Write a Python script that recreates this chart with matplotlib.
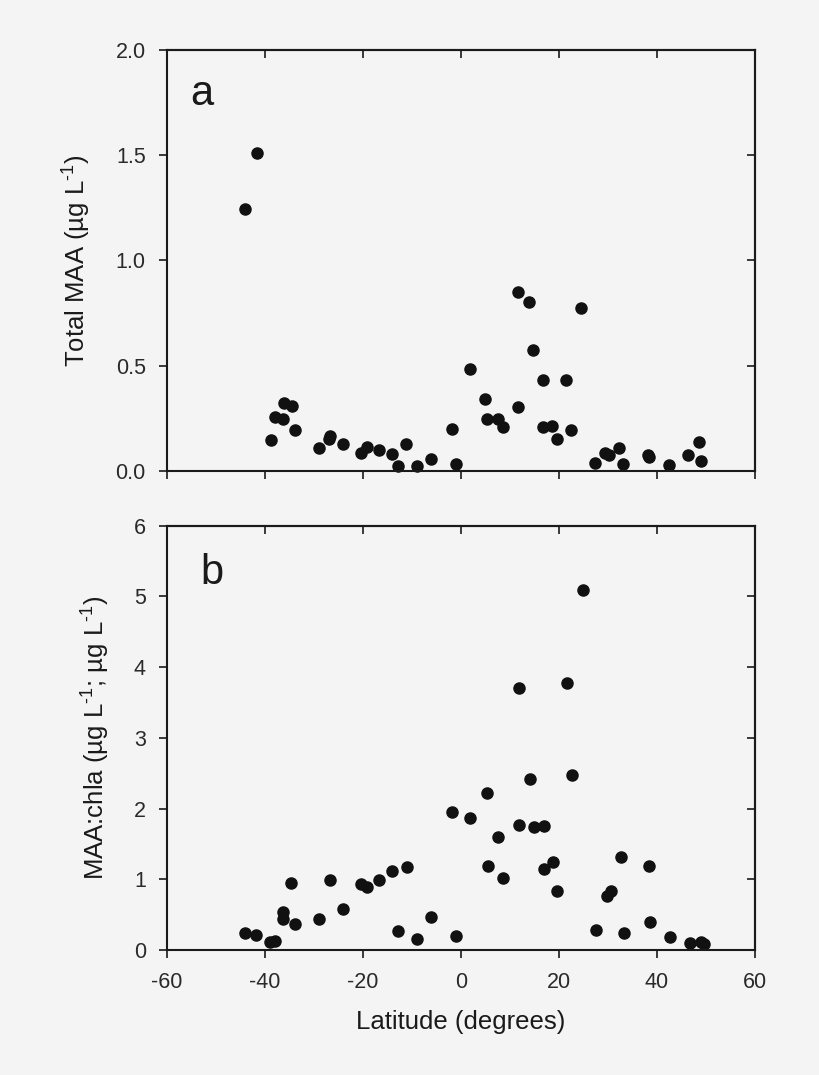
import numpy as np
import matplotlib
matplotlib.use("Agg")
import matplotlib.pyplot as plt

plt.rcParams['font.family'] = ['Liberation Sans', 'DejaVu Sans']
plt.rcParams['mathtext.fontset'] = 'custom'
plt.rcParams['mathtext.rm'] = 'Liberation Sans'
plt.rcParams['mathtext.it'] = 'Liberation Sans:italic'
plt.rcParams['axes.unicode_minus'] = False

#-- Data ---------------------------------------------------
# panel a: total MAA (ug/L) against latitude
lat_a = [-41.6, -44.0, -36.1, -34.4, -38.0, -36.2, -33.8, -38.8, -28.9, -26.6,
         -26.9, -24.1, -20.4, -19.1, -16.7, -14.1, -12.9, -11.1, -8.9, -6.1,
         -1.7, -1.0, 1.8, 5.0, 5.3, 7.6, 8.6, 11.7, 11.7, 14.0,
         14.8, 16.7, 16.7, 18.6, 19.6, 21.5, 22.5, 24.6, 27.5, 29.4,
         30.3, 32.4, 33.1, 38.2, 38.5, 42.6, 46.3, 48.7, 49.1]
maa = [1.51, 1.242, 0.32, 0.309, 0.254, 0.246, 0.193, 0.147, 0.108, 0.166,
       0.15, 0.128, 0.083, 0.111, 0.098, 0.078, 0.021, 0.127, 0.021, 0.056,
       0.197, 0.030, 0.482, 0.342, 0.244, 0.246, 0.206, 0.851, 0.301, 0.803,
       0.575, 0.43, 0.206, 0.211, 0.149, 0.43, 0.192, 0.772, 0.037, 0.083,
       0.076, 0.106, 0.030, 0.075, 0.067, 0.026, 0.075, 0.135, 0.045]

# panel b: MAA:chla ratio against latitude
lat_b = [-44.0, -41.7, -38.9, -38.0, -36.3, -36.3, -34.6, -33.9, -28.9, -26.6,
         -24.1, -20.4, -19.2, -16.7, -14.0, -11.0, -12.8, -8.9, -6.0, -1.7,
         -1.0, 1.9, 5.3, 5.5, 7.7, 8.7, 11.9, 11.9, 14.1, 15.0,
         17.0, 16.9, 18.9, 19.7, 21.7, 22.8, 24.9, 27.7, 29.8, 30.7,
         32.7, 33.4, 38.4, 38.7, 42.8, 46.7, 49.1, 49.6]
ratio = [0.245, 0.212, 0.113, 0.127, 0.537, 0.438, 0.952, 0.363, 0.434, 0.99,
         0.58, 0.938, 0.896, 0.99, 1.122, 1.174, 0.264, 0.16, 0.467, 1.948,
         0.194, 1.867, 2.216, 1.188, 1.594, 1.018, 3.71, 1.773, 2.423, 1.735,
         1.754, 1.141, 1.249, 0.839, 3.772, 2.48, 5.088, 0.287, 0.764, 0.83,
         1.32, 0.236, 1.188, 0.392, 0.18, 0.095, 0.113, 0.085]

xticks = [-60, -40, -20, 0, 20, 40, 60]
yticks_a = [0.0, 0.5, 1.0, 1.5, 2.0]
yticks_b = [0, 1, 2, 3, 4, 5, 6]

#-- Plot ---------------------------------------------------
bg = '#f4f4f4'
ink = '#1a1a1a'
fig = plt.figure(figsize=(8.2, 10.75), dpi=100, facecolor=bg)
ax1 = fig.add_axes([0.2033, 0.5621, 0.7171, 0.3914], facecolor=bg)
ax2 = fig.add_axes([0.2033, 0.1163, 0.7171, 0.3947], facecolor=bg)


def style(ax, yticks, fmt, show_x):
    ax.set_xlim(-60, 60)
    ax.set_ylim(yticks[0], yticks[-1])
    ax.set_xticks(xticks)
    ax.set_xticklabels(['%d' % v for v in xticks])
    ax.set_yticks(yticks)
    ax.set_yticklabels([fmt % v for v in yticks])
    for s in ax.spines.values():
        s.set_linewidth(1.5)
        s.set_color(ink)
    ax.tick_params(direction='out', length=6, width=1.2, color=ink,
                   labelsize=15.5, labelcolor='#2a2a2a')
    ax.tick_params(axis='y', pad=9)
    ax.tick_params(axis='x', pad=10, labelbottom=show_x)
    # inward ticks on top and right, no labels
    top = ax.secondary_xaxis('top')
    top.set_xticks(xticks)
    top.tick_params(direction='in', length=6, width=1.2, color=ink, labeltop=False)
    top.spines['top'].set_linewidth(1.5)
    right = ax.secondary_yaxis('right')
    right.set_yticks(yticks)
    right.tick_params(direction='in', length=6, width=1.2, color=ink, labelright=False)
    right.spines['right'].set_linewidth(1.5)


sup = '$^{\\text{-1}}$'

ax1.plot(lat_a, maa, 'o', color='#111111', markersize=8, clip_on=False)
style(ax1, yticks_a, '%.1f', False)
ax1.set_ylabel('Total MAA (µg L' + sup + ')', fontsize=18.5, color=ink, labelpad=16)
ax1.text(0.04, 0.869, 'a', transform=ax1.transAxes, fontsize=30, color=ink)

ax2.plot(lat_b, ratio, 'o', color='#111111', markersize=8, clip_on=False)
style(ax2, yticks_b, '%d', True)
ax2.set_ylabel('MAA:chla (µg L' + sup + '; µg L' + sup + ')', fontsize=18.5,
               color=ink, labelpad=16)
ax2.set_xlabel('Latitude (degrees)', fontsize=18.5, color=ink, labelpad=12)
ax2.text(0.058, 0.863, 'b', transform=ax2.transAxes, fontsize=30, color=ink)

fig.savefig('out.png', dpi=100, facecolor=bg)
